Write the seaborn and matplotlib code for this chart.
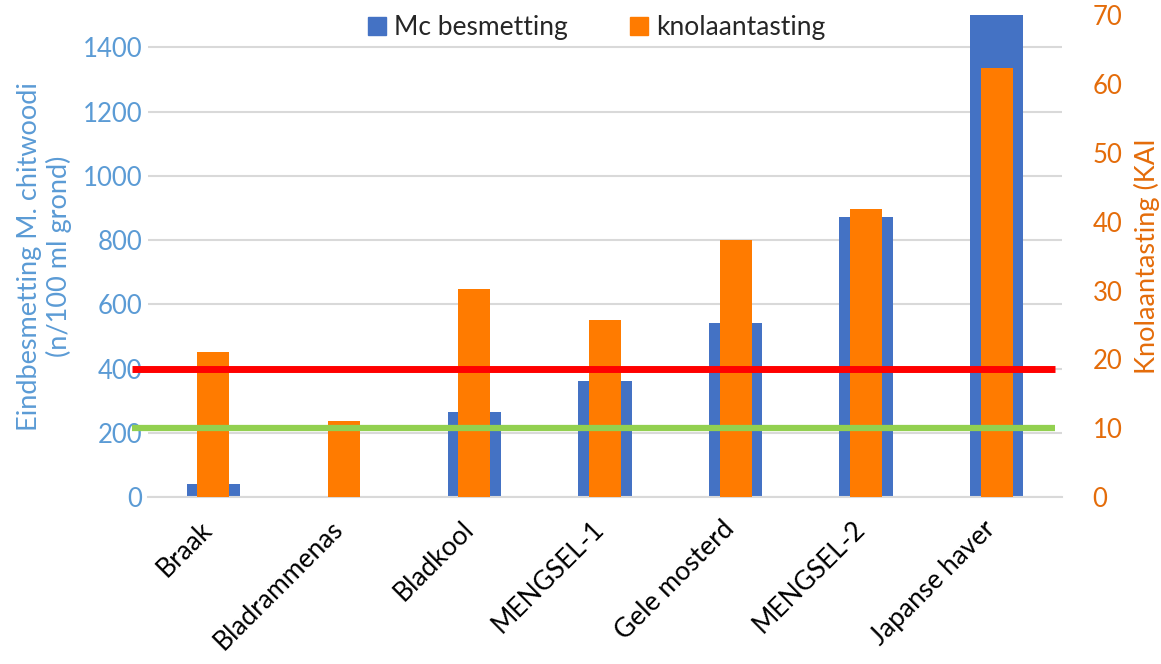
import numpy as np
import pandas as pd
import matplotlib
matplotlib.use("Agg")
import matplotlib.pyplot as plt
import matplotlib.transforms as mtransforms
from matplotlib.lines import Line2D
import seaborn as sns

# data
gewassen = ["Braak", "Bladrammenas", "Bladkool", "MENGSEL-1",
            "Gele mosterd", "MENGSEL-2", "Japanse haver"]
mc_besmetting = [41, 3, 264, 361, 543, 873, 1650]      # n/100 ml grond (left axis)
knolaantasting = [21.1, 11.0, 30.2, 25.7, 37.3, 41.8, 62.3]  # KAI (right axis)
rode_grens = 400     # left axis units
groene_grens = 10    # right axis units

df = pd.DataFrame({"gewas": gewassen, "mc": mc_besmetting, "kai": knolaantasting})

sns.set_theme(style="white")
plt.rcParams["font.family"] = ["Lato", "DejaVu Sans"]

blauw = "#4472C4"
oranje = "#FF7B00"
as_blauw = "#5B9BD5"
as_oranje = "#E46C0A"

fig = plt.figure(figsize=(11.61, 6.64), dpi=100)
ax = fig.add_axes([0.1275, 0.2515, 0.7872, 0.7255])

sns.barplot(data=df, x="gewas", y="mc", color=blauw, width=0.41,
            saturation=1, linewidth=0, ax=ax, zorder=2)
ax.set_ylim(0, 1500)
ax.set_yticks(np.arange(0, 1401, 200))
ax.grid(axis="y", color="#D9D9D9", linewidth=1.5, zorder=0)
ax.set_axisbelow(True)
for s in ["top", "right", "left"]:
    ax.spines[s].set_visible(False)
ax.spines["bottom"].set_color("#D9D9D9")
ax.spines["bottom"].set_linewidth(1.5)
ax.tick_params(axis="y", colors=as_blauw, labelsize=18.5, length=0, pad=4)
ax.tick_params(axis="x", colors="black", labelsize=19, length=0, pad=14)
ax.set_xlabel("")
ax.set_ylabel("Eindbesmetting M. chitwoodi\n(n/100 ml grond)", color=as_blauw,
              fontsize=19.5, labelpad=8, linespacing=1.15)
# shift category labels a little to the left
verschuif = mtransforms.ScaledTranslation(-10 / 72, 0, fig.dpi_scale_trans)
for lbl in ax.get_xticklabels():
    lbl.set_rotation(45)
    lbl.set_ha("right")
    lbl.set_rotation_mode("anchor")
    lbl.set_transform(lbl.get_transform() + verschuif)
ax.set_xlim(-0.5, len(gewassen) - 0.5)

ax2 = ax.twinx()
sns.barplot(data=df, x="gewas", y="kai", color=oranje, width=0.245,
            saturation=1, linewidth=0, ax=ax2, zorder=3)
ax2.set_ylim(0, 70)
ax2.set_yticks(np.arange(0, 71, 10))
ax2.set_xlim(-0.5, len(gewassen) - 0.5)
for s in ax2.spines.values():
    s.set_visible(False)
ax2.tick_params(axis="y", colors=as_oranje, labelsize=18.5, length=0, pad=22)
ax2.set_ylabel("Knolaantasting (KAI", color=as_oranje, fontsize=19.5,
               labelpad=8)

# threshold lines, slightly past the left edge of the plot
rood_tr = mtransforms.blended_transform_factory(ax2.transAxes, ax.transData)
ax2.plot([-0.018, 0.992], [rode_grens, rode_grens], color="#FF0000", lw=5,
         transform=rood_tr, clip_on=False, zorder=5, solid_capstyle="butt")
groen_tr = mtransforms.blended_transform_factory(ax2.transAxes, ax2.transData)
ax2.plot([-0.018, 0.992], [groene_grens, groene_grens], color="#92D050", lw=4.5,
         transform=groen_tr, clip_on=False, zorder=5, solid_capstyle="butt")

handles = [Line2D([], [], marker="s", ls="", color=blauw, markersize=12.5),
           Line2D([], [], marker="s", ls="", color=oranje, markersize=12.5)]
fig.legend(handles, ["Mc besmetting", "knolaantasting"], loc="center",
           bbox_to_anchor=(0.512, 0.958), ncol=2, frameon=False, fontsize=19,
           handletextpad=0.15, columnspacing=2.2, handlelength=1.0)

fig.savefig("out.png", dpi=100)
